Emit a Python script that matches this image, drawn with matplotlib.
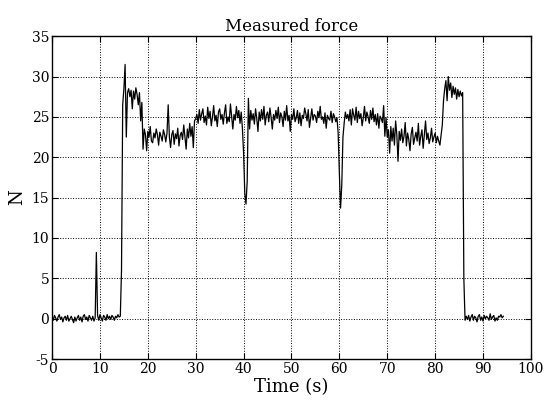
import numpy as np
import matplotlib.pyplot as plt

# force samples, 4 per second (dt = 0.25 s), one row per second
force = [
    0.3, -0.2, 0.4, 0.1,
    -0.3, 0.2, 0.5, -0.1,
    0.2, -0.4, 0.1, 0.3,
    -0.2, 0.4, -0.3, 0.0,
    0.3, -0.1, -0.5, 0.2,
    -0.3, 0.1, 0.4, -0.2,
    0.2, -0.4, 0.3, 0.5,
    -0.1, 0.2, -0.3, 0.4,
    0.1, -0.2, 0.3, -0.3,
    0.1, 8.2, 0.4, -0.2,
    0.5, 0.1, -0.3, 0.4,      # 10
    0.2, -0.2, 0.5, 0.0,
    0.3, -0.1, 0.4, 0.2,
    -0.2, 0.3, 0.1, 0.5,
    0.2, 0.3, 6.0, 26.5,
    28.5, 31.5, 22.5, 28.0,
    28.5, 27.5, 28.3, 26.0,
    28.2, 27.2, 28.6, 27.8,
    26.5, 28.0, 24.5, 26.8,
    21.0, 23.5, 22.8, 20.8,
    23.2, 22.5, 23.8, 22.0,   # 20
    21.8, 23.0, 22.4, 23.5,
    22.8, 21.5, 23.1, 22.6,
    22.0, 23.4, 22.8, 21.9,
    23.0, 26.5, 22.5, 21.2,
    22.8, 23.3, 21.6, 22.9,
    22.3, 23.6, 21.4, 22.7,
    23.1, 22.2, 24.0, 22.5,
    21.0, 23.5, 22.4, 24.2,
    22.6, 23.8, 21.2, 24.5,
    24.8, 25.3, 24.2, 25.9,   # 30
    24.6, 25.4, 26.0, 24.3,
    25.1, 24.0, 26.2, 24.8,
    25.7, 23.9, 25.0, 26.4,
    24.5, 25.2, 23.8, 25.6,
    26.0, 24.7, 25.3, 24.1,
    25.5, 26.5, 24.2, 25.0,
    24.4, 26.6, 25.1, 23.5,
    25.3, 24.6, 26.3, 24.9,
    25.8, 24.2, 25.6, 23.6,
    20.5, 15.5, 14.2, 17.0,   # 40
    27.3, 23.5, 25.8, 24.6,
    25.4, 24.1, 26.0, 24.8,
    23.2, 25.6, 24.5, 25.9,
    24.7, 26.3, 24.0, 25.2,
    25.6, 24.4, 26.1, 24.9,
    23.5, 25.3, 24.6, 25.8,
    24.8, 26.2, 24.3, 25.5,
    25.0, 23.8, 25.7, 24.6,
    26.4, 24.5, 25.2, 23.2,
    25.3, 24.7, 26.0, 24.4,   # 50
    24.9, 25.8, 24.2, 25.5,
    23.9, 25.2, 24.8, 26.1,
    25.4, 24.5, 25.9, 23.7,
    24.8, 26.0, 24.6, 25.3,
    25.1, 24.3, 25.7, 24.9,
    26.3, 24.7, 25.0, 24.2,
    25.5, 23.6, 25.2, 24.8,
    24.6, 25.7, 24.3, 25.4,
    25.0, 24.4, 24.9, 23.0,
    18.0, 13.7, 16.5, 22.5,   # 60
    24.2, 25.6, 24.8, 25.3,
    24.5, 25.9, 24.0, 26.0,
    25.2, 24.6, 26.2, 24.3,
    25.7, 24.8, 25.4, 23.9,
    24.9, 26.3, 24.5, 25.6,
    25.0, 24.2, 25.8, 24.7,
    26.1, 24.4, 25.3, 24.0,
    25.4, 23.6, 25.1, 24.8,
    24.3, 26.4, 22.6, 24.9,
    22.5, 23.4, 20.5, 23.8,   # 70
    22.0, 23.6, 21.5, 24.5,
    22.8, 19.5, 23.2, 22.1,
    23.5, 21.8, 22.6, 24.3,
    21.4, 23.0, 22.2, 20.8,
    22.9, 23.7, 21.6, 22.4,
    23.1, 22.0, 24.2, 21.5,
    22.6, 23.4, 21.1, 22.8,
    24.5, 22.2, 23.0, 21.7,
    22.4, 23.6, 21.9, 22.5,
    23.0, 21.8, 22.6, 22.0,   # 80
    21.5, 22.8, 24.0, 27.0,
    28.5, 29.5, 27.0, 30.0,
    28.3, 29.2, 27.4, 28.8,
    27.8, 28.6, 27.2, 28.4,
    27.5, 28.2, 27.6, 28.0,
    5.0, -0.2, 0.3, -0.1,
    0.4, -0.3, 0.2, 0.5,
    -0.2, 0.3, 0.1, -0.4,
    0.3, 0.5, -0.2, 0.2,
    -0.3, 0.4, 0.0, 0.3,      # 90
    0.1, -0.2, 0.6, -0.1,
    0.2, 0.4, -0.3, 0.1,
    -0.2, 0.3, 0.2, 0.5,
    0.1, 0.3,
]
dt = 0.25
time = np.arange(len(force)) * dt

x_ticks = list(range(0, 101, 10))
y_ticks = list(range(-5, 36, 5))

plt.rcParams['font.family'] = ['DejaVu Serif']
plt.rcParams['axes.unicode_minus'] = False

fig = plt.figure(figsize=(5.6, 4.16), dpi=100)
ax = fig.add_axes([0.093, 0.137, 0.855, 0.776])
ax.plot(time, force, color='black', linewidth=0.9)

ax.set_xlim(0, 100)
ax.set_ylim(-5, 35)
ax.set_xticks(x_ticks)
ax.set_yticks(y_ticks)
ax.tick_params(direction='in', top=True, right=True, labelsize=10, length=4, pad=2)
ax.grid(True, linestyle=':', color='black', linewidth=0.7)
for s in ax.spines.values():
    s.set_linewidth(1.0)

ax.set_title('Measured force', fontsize=12, pad=4)
ax.set_xlabel('Time (s)', fontsize=13, labelpad=2)
ax.set_ylabel('N', fontsize=13, labelpad=4)

plt.savefig('out.png', dpi=100)
